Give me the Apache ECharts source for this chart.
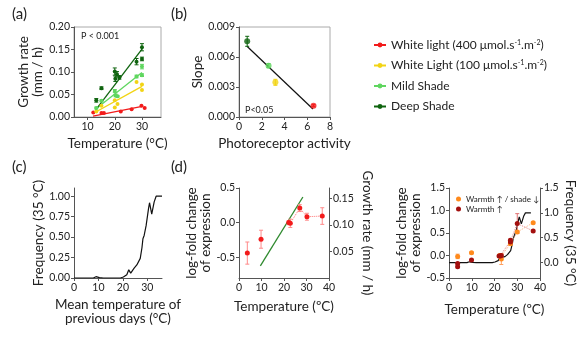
<!DOCTYPE html>
<html>
<head>
<meta charset="utf-8">
<script src="https://cdn.jsdelivr.net/npm/echarts@6/dist/echarts.min.js"></script>
<style>
  html, body { margin: 0; background: #fff; }
  #chart { width: 582px; height: 341px; }
</style>
</head>
<body>
<div id="chart"></div>
<script>
// ---- (a) growth rate vs temperature ----
const deepTemp = [13.2, 15.1, 20, 20.2, 20.8, 21.7, 28, 30, 30]
const deepRate = [0.037, 0.064, 0.101, 0.085, 0.095, 0.088, 0.123, 0.155, 0.129]
const deepErr = [0.004, 0.003, 0.008, 0.006, 0.006, 0.004, 0.007, 0.008, 0.004]
const mildTemp = [13.2, 15.1, 20, 20.3, 21, 28, 30, 30]
const mildRate = [0.020, 0.036, 0.058, 0.048, 0.046, 0.090, 0.112, 0.093]
const mildErr = [0.002, 0.002, 0.003, 0.003, 0.002, 0.003, 0.005, 0.003]
const lowTemp = [13.2, 15.1, 20, 20, 21, 28, 30, 30]
const lowRate = [0.012, 0.025, 0.037, 0.021, 0.029, 0.078, 0.072, 0.060]
const highTemp = [12.1, 15.1, 16, 22.2, 26.2, 29.8, 31]
const highRate = [0.010, 0.009, 0.009, 0.0125, 0.0175, 0.025, 0.020]
const fitTemp = [13, 30]
const fitDeep = [0.016, 0.151]
const fitMild = [0.018, 0.099]
const fitLow = [0.011, 0.068]
const fitHighTemp = [12, 30.5]
const fitHigh = [0.002, 0.024]

// ---- (b) slope vs photoreceptor activity ----
const activity = [0.72, 2.6, 3.2, 6.55]
const slope = [0.00757, 0.00513, 0.00347, 0.00113]
const slopeErr = [0.0005, 0.0002, 0.0003, 0.0001]
const slopeFitX = [0.7, 6.5]
const slopeFitY = [0.00707, 0.0008]

// ---- (c) frequency of 35 °C vs mean temperature ----
const freqTemp = [0, 7.9, 9, 10.4, 12, 19, 20.2, 21.6, 22.4, 23.2, 24.6, 25.7, 26.4, 27.1, 27.8, 28.2, 28.7, 29.5, 30.5, 30.9, 31.8, 32.8, 33.6, 36]
const freqValue = [0, 0, 0.016, 0.004, 0, 0, 0.012, 0.04, 0.1, 0.06, 0.12, 0.16, 0.17, 0.24, 0.37, 0.48, 0.52, 0.64, 0.85, 0.92, 0.78, 0.93, 1.0, 1.0]

// ---- (d) expression and growth rate ----
const exprTemp = [3.7, 9.8, 22.1, 22.8, 27, 30.2, 37]
const exprValue = [-0.44, -0.24, 0.0, -0.01, 0.21, 0.085, 0.095]
const exprErr = [0.16, 0.13, 0.03, 0.06, 0.05, 0.05, 0.12]
const growthTemp = [9.5, 28.4]
const growthRate = [0.023, 0.153]

// ---- (e) expression under warmth / shade ----
const shadeTemp = [3.8, 9.9, 22.3, 23, 27, 30, 37]
const shadeValue = [-0.02, 0.06, 0.0, -0.08, 0.26, 0.52, 0.73]
const shadeErr = [0.05, 0.02, 0.03, 0.12, 0.03, 0.02, 0.02]
const warmTemp = [3.8, 3.8, 9.9, 22, 22.6, 23, 27, 27, 30, 37]
const warmValue = [-0.18, -0.25, -0.1, -0.01, -0.01, 0.0, 0.34, 0.30, 0.71, 0.545]
const warmErr = [0.02, 0.02, 0.02, 0.02, 0.02, 0.02, 0.03, 0.03, 0.22, 0.02]
const shadeMeanTemp = [22.6, 27, 30, 37]
const shadeMean = [-0.04, 0.26, 0.52, 0.73]
const warmMeanTemp = [22.5, 27, 30, 37]
const warmMean = [-0.005, 0.32, 0.71, 0.545]

const legendNames = [
  'White light (400 μmol.s-1.m-2)',
  'White Light (100 μmol.s-1.m-2)',
  'Mild Shade',
  'Deep Shade',
]
const legendRich = {
  'White light (400 μmol.s-1.m-2)': '{t|White light (400 μmol.s}{s|-1}{t|.m}{s|-2}{t|)}',
  'White Light (100 μmol.s-1.m-2)': '{t|White Light (100 μmol.s}{s|-1}{t|.m}{s|-2}{t|)}',
}

const RED = '#f21b1b'
const YELLOW = '#f2d414'
const LIGHTGREEN = '#5fd65f'
const DARKGREEN = '#0f640f'
const ORANGE = '#ff8a1c'
const DARKRED = '#a3100f'
const FONT = 'Lato'

const pts = (xs, ys) => xs.map((x, i) => [x, ys[i]])
const bars = (xs, ys, es) => xs.map((x, i) => [x, ys[i] - es[i], ys[i] + es[i]])

const errorSeries = (xi, yi, data, color) => ({
  type: 'custom',
  xAxisIndex: xi,
  yAxisIndex: yi,
  encode: { x: 0, y: [1, 2] },
  data,
  z: 3,
  renderItem: (params, api) => {
    const x = api.value(0)
    const lo = api.coord([x, api.value(1)])
    const hi = api.coord([x, api.value(2)])
    const w = 2
    const style = { stroke: color, lineWidth: 1 }
    return {
      type: 'group',
      children: [
        { type: 'line', shape: { x1: lo[0], y1: lo[1], x2: hi[0], y2: hi[1] }, style },
        { type: 'line', shape: { x1: lo[0] - w, y1: lo[1], x2: lo[0] + w, y2: lo[1] }, style },
        { type: 'line', shape: { x1: hi[0] - w, y1: hi[1], x2: hi[0] + w, y2: hi[1] }, style },
      ],
    }
  },
})

const scatter = (xi, yi, data, color, size, name) => ({
  type: 'scatter', name, xAxisIndex: xi, yAxisIndex: yi, data,
  symbolSize: size, itemStyle: { color, opacity: 1 }, z: 4,
})

const line = (xi, yi, data, color, extra) => Object.assign({
  type: 'line', xAxisIndex: xi, yAxisIndex: yi, data,
  showSymbol: false, symbol: 'none', lineStyle: { color, width: 1.3 },
  itemStyle: { color }, z: 2, animation: false,
}, extra || {})

const nameStyle = { fontSize: 13.5, color: '#222', fontFamily: FONT }
const axisColor = '#555'

const axis = (o) => Object.assign({
  type: 'value',
  axisLine: { show: true, onZero: false, lineStyle: { color: axisColor } },
  axisTick: { show: true, length: 3, lineStyle: { color: axisColor } },
  axisLabel: { color: '#222', fontSize: 10.5, fontFamily: FONT, margin: 4 },
  splitLine: { show: false },
  nameLocation: 'middle',
  nameTextStyle: nameStyle,
}, o)

const fixed = (d) => (v) => v.toFixed(d)

const chart = echarts.init(document.getElementById('chart'))

chart.setOption({
  animation: false,
  title: [
    { text: '(a)', left: 12, top: 7 },
    { text: '(b)', left: 171, top: 7 },
    { text: '(c)', left: 12, top: 160 },
    { text: '(d)', left: 171, top: 160 },
  ].map(t => Object.assign(t, { padding: 0, textStyle: { fontSize: 15, fontWeight: 'normal', color: '#222', fontFamily: FONT } })),
  grid: [
    { left: 74, top: 27, width: 87, height: 90, show: true, borderColor: '#aaa' },
    { left: 239, top: 27, width: 91, height: 90, show: true, borderColor: '#aaa' },
    { left: 74, top: 188, width: 88, height: 90 },
    { left: 239, top: 188, width: 90, height: 90 },
    { left: 449, top: 188, width: 91, height: 90 },
  ],
  xAxis: [
    axis({ gridIndex: 0, min: 5, max: 37, name: 'Temperature (°C)', nameGap: 20,
      axisLabel: { customValues: [10, 20, 30], color: '#222', fontSize: 10.5, fontFamily: FONT, margin: 4 },
      axisTick: { customValues: [10, 20, 30], length: 3, lineStyle: { color: axisColor } } }),
    axis({ gridIndex: 1, min: 0, max: 8, interval: 2, name: 'Photoreceptor activity', nameGap: 20 }),
    axis({ gridIndex: 2, min: 0, max: 36, name: 'Mean temperature of\nprevious days (°C)', nameGap: 20,
      axisLabel: { customValues: [0, 10, 20, 30], color: '#222', fontSize: 10.5, fontFamily: FONT, margin: 4 },
      axisTick: { customValues: [0, 10, 20, 30], length: 3, lineStyle: { color: axisColor } } }),
    axis({ gridIndex: 3, min: 0, max: 40, interval: 10, name: 'Temperature (ºC)', nameGap: 22 }),
    axis({ gridIndex: 4, min: 0, max: 40, interval: 10, name: 'Temperature (ºC)', nameGap: 25 }),
  ],
  yAxis: [
    axis({ gridIndex: 0, min: 0, max: 0.2, interval: 0.05, name: 'Growth rate\n(mm / h)', nameGap: 29,
      axisLabel: { formatter: fixed(2), color: '#222', fontSize: 10.5, fontFamily: FONT, margin: 4 } }),
    axis({ gridIndex: 1, min: 0, max: 0.009, interval: 0.003, name: 'Slope', nameGap: 34,
      axisLabel: { formatter: fixed(3), color: '#222', fontSize: 10.5, fontFamily: FONT, margin: 4 } }),
    axis({ gridIndex: 2, min: 0, max: 1.1, name: 'Frequency (35 °C)', nameGap: 27,
      axisLabel: { customValues: [0, 0.25, 0.5, 0.75, 1], formatter: fixed(2), color: '#222', fontSize: 10.5, fontFamily: FONT, margin: 4 },
      axisTick: { customValues: [0, 0.25, 0.5, 0.75, 1], length: 3, lineStyle: { color: axisColor } } }),
    axis({ gridIndex: 3, min: -0.8, max: 0.5, name: 'log-fold change\nof expression', nameGap: 25,
      axisLabel: { customValues: [-0.5, 0, 0.5], formatter: fixed(1), color: '#222', fontSize: 10.5, fontFamily: FONT, margin: 4 },
      axisTick: { customValues: [-0.5, 0, 0.5], length: 3, lineStyle: { color: axisColor } } }),
    axis({ gridIndex: 3, position: 'right', min: 0, max: 0.17, name: 'Growth rate (mm / h)', nameGap: 31, nameRotate: -90,
      axisLabel: { customValues: [0.05, 0.1, 0.15], formatter: fixed(2), color: '#222', fontSize: 10.5, fontFamily: FONT, margin: 4 },
      axisTick: { customValues: [0.05, 0.1, 0.15], length: 3, lineStyle: { color: axisColor } } }),
    axis({ gridIndex: 4, min: -0.5, max: 1.5, interval: 0.5, name: 'log-fold change\nof expression', nameGap: 19,
      axisLabel: { formatter: fixed(1), color: '#222', fontSize: 10.5, fontFamily: FONT, margin: 4 } }),
    axis({ gridIndex: 4, position: 'right', min: -0.31, max: 1.5, name: 'Frequency (35 °C)', nameGap: 23, nameRotate: -90,
      axisLabel: { customValues: [0, 0.5, 1, 1.5], formatter: fixed(1), color: '#222', fontSize: 10.5, fontFamily: FONT, margin: 4 },
      axisTick: { customValues: [0, 0.5, 1, 1.5], length: 3, lineStyle: { color: axisColor } } }),
  ],
  legend: [
    {
      data: legendNames, left: 368, top: 34, orient: 'vertical',
      itemWidth: 12, itemHeight: 6, itemGap: 8.5,
      textStyle: { fontSize: 12, color: '#222', fontFamily: FONT,
        rich: { t: { fontSize: 12, fontFamily: FONT, color: '#222' }, s: { fontSize: 7, fontFamily: FONT, color: '#222', verticalAlign: 'top' } } },
      formatter: n => legendRich[n] || n,
    },
    {
      data: ['Warmth ↑ / shade ↓', 'Warmth ↑'], left: 451, top: 190, orient: 'vertical',
      icon: 'circle', itemWidth: 5, itemHeight: 5, itemGap: 2,
      textStyle: { fontSize: 8, color: '#222', fontFamily: FONT },
    },
  ],
  graphic: [
    { type: 'text', left: 81, top: 32, style: { text: 'P < 0.001', fontSize: 9, fill: '#222', fontFamily: FONT } },
    { type: 'text', left: 245, top: 106, style: { text: 'P<0.05', fontSize: 9, fill: '#222', fontFamily: FONT } },
  ],
  series: [
    // (a)
    line(0, 0, pts(fitHighTemp, fitHigh), RED, { name: legendNames[0], symbol: 'circle', symbolSize: 4 }),
    line(0, 0, pts(fitTemp, fitLow), YELLOW, { name: legendNames[1], symbol: 'circle', symbolSize: 4 }),
    line(0, 0, pts(fitTemp, fitMild), LIGHTGREEN, { name: legendNames[2], symbol: 'circle', symbolSize: 4 }),
    line(0, 0, pts(fitTemp, fitDeep), DARKGREEN, { name: legendNames[3], symbol: 'circle', symbolSize: 4 }),
    errorSeries(0, 0, bars(deepTemp, deepRate, deepErr), DARKGREEN),
    errorSeries(0, 0, bars(mildTemp, mildRate, mildErr), LIGHTGREEN),
    scatter(0, 0, pts(highTemp, highRate), RED, 4),
    scatter(0, 0, pts(lowTemp, lowRate), YELLOW, 4),
    scatter(0, 0, pts(mildTemp, mildRate), LIGHTGREEN, 4),
    scatter(0, 0, pts(deepTemp, deepRate), DARKGREEN, 4),
    // (b)
    line(1, 1, pts(slopeFitX, slopeFitY), '#111', { lineStyle: { color: '#111', width: 1.2 } }),
    errorSeries(1, 1, bars(activity, slope, slopeErr).slice(0, 1), DARKGREEN),
    errorSeries(1, 1, bars(activity, slope, slopeErr).slice(1, 2), LIGHTGREEN),
    errorSeries(1, 1, bars(activity, slope, slopeErr).slice(2, 3), YELLOW),
    errorSeries(1, 1, bars(activity, slope, slopeErr).slice(3), RED),
    {
      type: 'scatter', xAxisIndex: 1, yAxisIndex: 1, symbolSize: 6, z: 4,
      data: pts(activity, slope).map((p, i) => ({ value: p, itemStyle: { color: [DARKGREEN, LIGHTGREEN, YELLOW, RED][i] } })),
    },
    // (c)
    line(2, 2, pts(freqTemp, freqValue), '#111', { lineStyle: { color: '#111', width: 1.2 } }),
    // (d)
    line(3, 4, pts(growthTemp, growthRate), '#2f8a2f', { lineStyle: { color: '#2f8a2f', width: 1.3 } }),
    line(3, 3, pts(exprTemp, exprValue).slice(3), '#ff7070', { lineStyle: { color: '#ff7070', width: 1, type: 'dotted' } }),
    errorSeries(3, 3, bars(exprTemp, exprValue, exprErr), '#ff8a8a'),
    scatter(3, 3, pts(exprTemp, exprValue), RED, 5),
    // (e)
    line(4, 6, pts(freqTemp, freqValue), '#111', { lineStyle: { color: '#111', width: 1.2 } }),
    line(4, 5, pts(shadeMeanTemp, shadeMean), '#ffb080', { lineStyle: { color: '#ffb080', width: 1, type: 'dotted' } }),
    line(4, 5, pts(warmMeanTemp, warmMean), '#e08080', { lineStyle: { color: '#e08080', width: 1, type: 'dotted' } }),
    errorSeries(4, 5, bars(shadeTemp, shadeValue, shadeErr), '#ffa060'),
    errorSeries(4, 5, bars(warmTemp, warmValue, warmErr), '#e07070'),
    scatter(4, 5, pts(shadeTemp, shadeValue), ORANGE, 5, 'Warmth ↑ / shade ↓'),
    scatter(4, 5, pts(warmTemp, warmValue), DARKRED, 5, 'Warmth ↑'),
  ],
})
</script>
</body>
</html>
